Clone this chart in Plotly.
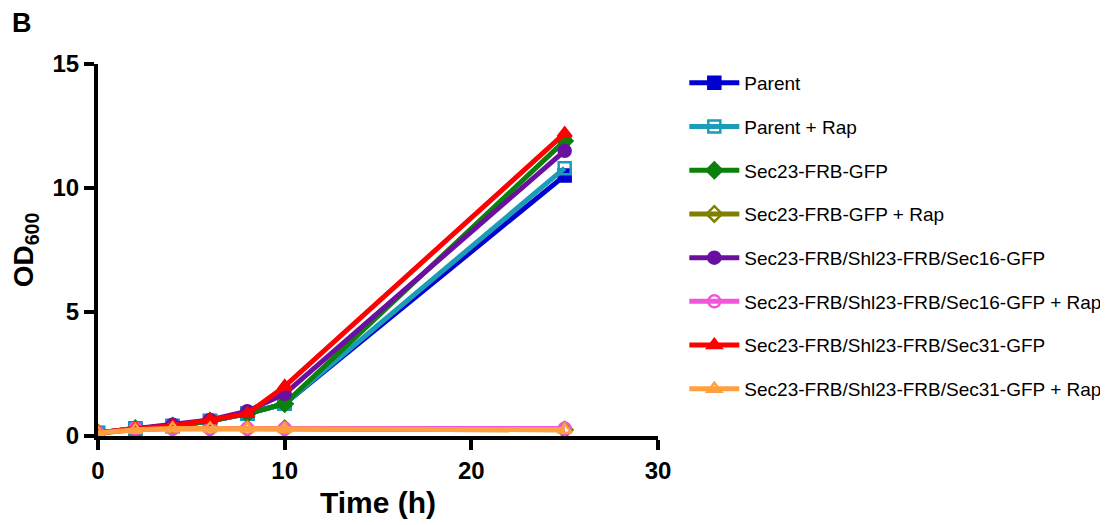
import plotly.graph_objects as go

time_h = [0, 2, 4, 6, 8, 10, 25]

series_names = [
    "Parent",
    "Parent + Rap",
    "Sec23-FRB-GFP",
    "Sec23-FRB-GFP + Rap",
    "Sec23-FRB/Shl23-FRB/Sec16-GFP",
    "Sec23-FRB/Shl23-FRB/Sec16-GFP + Rap",
    "Sec23-FRB/Shl23-FRB/Sec31-GFP",
    "Sec23-FRB/Shl23-FRB/Sec31-GFP + Rap",
]

parent = [0.12, 0.3, 0.4, 0.6, 0.9, 1.3, 10.5]
parent_rap = [0.12, 0.3, 0.4, 0.6, 0.9, 1.3, 10.8]
sec23 = [0.12, 0.3, 0.4, 0.6, 0.9, 1.3, 11.9]
sec23_rap = [0.12, 0.25, 0.3, 0.3, 0.3, 0.3, 0.25]
sec16 = [0.12, 0.3, 0.45, 0.65, 1.0, 1.7, 11.5]
sec16_rap = [0.12, 0.3, 0.3, 0.3, 0.3, 0.3, 0.3]
sec31 = [0.12, 0.3, 0.4, 0.65, 0.9, 2.0, 12.2]
sec31_rap = [0.12, 0.25, 0.3, 0.3, 0.3, 0.28, 0.25]

values = [parent, parent_rap, sec23, sec23_rap, sec16, sec16_rap, sec31, sec31_rap]
colors = ["#0000D0", "#1B9CB8", "#0B800B", "#7F7F00", "#6B0FA0", "#F055DA", "#FF0000", "#FFA040"]
symbols = ["square", "square-open", "diamond", "diamond-open", "circle", "circle-open", "triangle-up", "triangle-up-open"]

fig = go.Figure()
for i, (name, ys) in enumerate(zip(series_names, values)):
    fig.add_trace(go.Scatter(
        x=time_h, y=ys, name=name, mode="lines+markers",
        line=dict(color=colors[i], width=5),
        marker=dict(symbol=symbols[i], size=12, color=colors[i],
                    line=dict(color=colors[i], width=2.5)),
        legendgroup=f"g{i}",
    ))

font_family = "Arial, Liberation Sans, sans-serif"
# page body has ~8px default margin, so figure is 8px smaller and shifted
fig.update_layout(
    width=1100, height=517,
    paper_bgcolor="white", plot_bgcolor="white",
    margin=dict(l=90, r=450, t=56, b=89, autoexpand=False),
    font=dict(family=font_family, color="black"),
    showlegend=True,
    legend=dict(x=1.047, y=1.0, xanchor="left", yanchor="top",
                font=dict(size=19, family=font_family, color="black"),
                tracegroupgap=16, bgcolor="rgba(0,0,0,0)", maxheight=500,
                itemwidth=50),
    xaxis=dict(range=[0, 30], tickvals=[0, 10, 20, 30], showgrid=False, zeroline=False,
               showline=True, linewidth=4, linecolor="black",
               ticks="outside", ticklen=10, tickwidth=4, tickcolor="black",
               tickfont=dict(size=24, family=font_family, weight="bold"),
               title=dict(text="<b>Time (h)</b>", font=dict(size=30), standoff=10)),
    yaxis=dict(range=[0, 15], tickvals=[0, 5, 10, 15], showgrid=False, zeroline=False,
               showline=True, linewidth=4, linecolor="black",
               ticks="outside", ticklen=10, tickwidth=4, tickcolor="black",
               tickfont=dict(size=24, family=font_family, weight="bold"),
               title=dict(text="<b>OD<sub>600</sub></b>", font=dict(size=28), standoff=12)),
)
fig.add_annotation(text="<b>B</b>", xref="paper", yref="paper",
                   x=(2 - 90) / 560, y=1 + (56 - 15) / 372,
                   xanchor="left", yanchor="middle",
                   showarrow=False, font=dict(size=27, family=font_family))

fig.write_html("out.html")
